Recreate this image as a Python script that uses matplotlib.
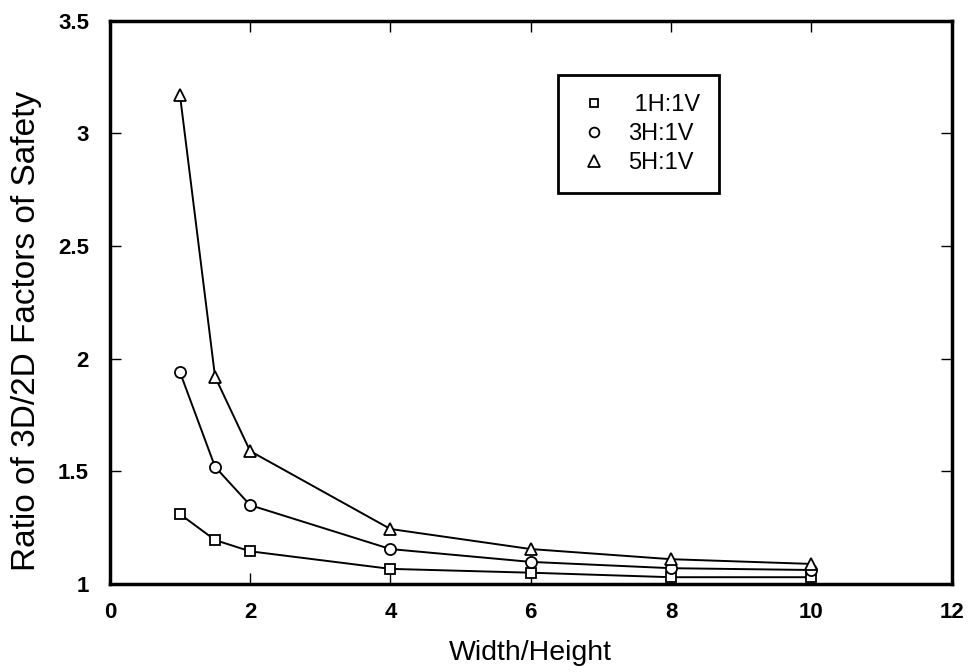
import matplotlib
matplotlib.use("Agg")
import matplotlib.pyplot as plt
from matplotlib.lines import Line2D

plt.rcParams['font.family'] = ['Liberation Sans', 'DejaVu Sans']

width_height = [1, 1.5, 2, 4, 6, 8, 10]
ratio_1h1v = [1.31, 1.195, 1.145, 1.067, 1.05, 1.03, 1.03]
ratio_3h1v = [1.94, 1.52, 1.35, 1.155, 1.098, 1.07, 1.062]
ratio_5h1v = [3.17, 1.92, 1.59, 1.244, 1.155, 1.11, 1.089]
labels = [' 1H:1V', '3H:1V', '5H:1V']
x_ticks = [0, 2, 4, 6, 8, 10, 12]
y_ticks = [1, 1.5, 2, 2.5, 3, 3.5]

fig = plt.figure(figsize=(9.72, 6.72), dpi=100)
ax = fig.add_axes([0.113, 0.131, 0.866, 0.838])

ms = dict(markerfacecolor='white', markeredgecolor='black', markeredgewidth=1.3, color='black', linewidth=1.4)
ax.plot(width_height, ratio_1h1v, marker='s', markersize=7, **ms)
ax.plot(width_height, ratio_3h1v, marker='o', markersize=8, **ms)
ax.plot(width_height, ratio_5h1v, marker='^', markersize=9, **ms)

ax.set_xlim(0, 12)
ax.set_ylim(1, 3.5)
ax.set_xticks(x_ticks)
ax.set_yticks(y_ticks)
ax.set_xticklabels([str(v) for v in x_ticks])
ax.set_yticklabels(['1', '1.5', '2', '2.5', '3', '3.5'])
ax.tick_params(direction='in', top=True, right=True, length=8, width=1, labelsize=16)
ax.tick_params(axis='x', pad=13)
ax.tick_params(axis='y', pad=15)
for lab in ax.get_xticklabels() + ax.get_yticklabels():
    lab.set_fontweight('bold')
for s in ax.spines.values():
    s.set_linewidth(2.5)

ax.set_xlabel('Width/Height', fontsize=20.5, labelpad=12)
ax.set_ylabel('Ratio of 3D/2D Factors of Safety', fontsize=24)
ax.yaxis.set_label_coords(-0.081, 0.45)

handles = [
    Line2D([], [], linestyle='none', marker='s', markersize=6, markerfacecolor='white', markeredgecolor='black', markeredgewidth=1.3),
    Line2D([], [], linestyle='none', marker='o', markersize=7, markerfacecolor='white', markeredgecolor='black', markeredgewidth=1.3),
    Line2D([], [], linestyle='none', marker='^', markersize=8, markerfacecolor='white', markeredgecolor='black', markeredgewidth=1.3),
]
leg = ax.legend(handles, labels, loc='upper left', bbox_to_anchor=(0.532, 0.904), fontsize=17,
                frameon=True, fancybox=False, edgecolor='black', borderpad=0.8, handletextpad=0.7,
                labelspacing=0.3, handlelength=1.5, borderaxespad=0)
leg.get_frame().set_linewidth(2)
leg.get_frame().set_alpha(1)

fig.savefig('out.png', dpi=100)
